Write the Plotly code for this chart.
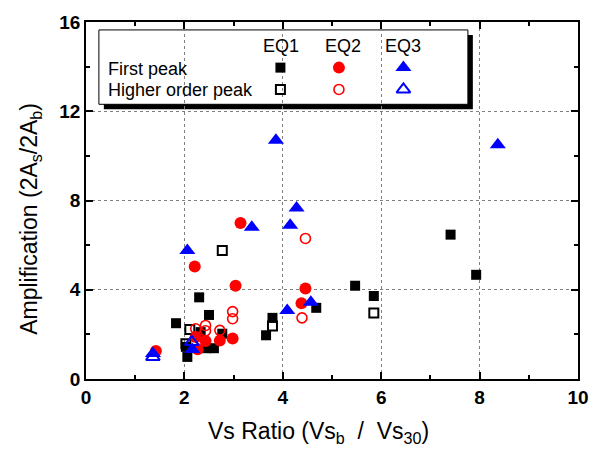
import plotly.graph_objects as go

# ---- data ----
eq1_first_x = [1.83, 2.03, 2.06, 2.30, 2.33, 2.45, 2.50, 2.60, 2.77, 3.66, 3.79, 4.68, 5.47, 5.85, 7.41, 7.93]
eq1_first_y = [2.50, 1.44, 0.99, 3.66, 2.10, 1.38, 2.87, 1.38, 2.03, 1.96, 2.74, 3.19, 4.18, 3.72, 6.47, 4.67]

eq1_higher_x = [2.03, 2.11, 2.77, 3.79, 5.85]
eq1_higher_y = [1.58, 2.22, 5.76, 2.37, 2.96]

eq2_first_x = [1.42, 2.21, 2.23, 2.27, 2.43, 2.72, 2.98, 3.04, 3.14, 4.38, 4.46]
eq2_first_y = [1.26, 5.04, 1.88, 1.33, 1.70, 1.72, 1.81, 4.18, 6.99, 3.39, 4.06]

eq2_higher_x = [2.23, 2.43, 2.43, 2.72, 2.98, 2.98, 4.39, 4.46]
eq2_higher_y = [2.25, 2.40, 2.16, 2.18, 3.02, 2.70, 2.74, 6.30]

eq3_first_x = [1.36, 2.06, 2.16, 3.37, 3.86, 4.09, 4.15, 4.28, 4.57, 8.37]
eq3_first_y = [1.14, 5.76, 1.32, 6.80, 10.70, 3.07, 6.89, 7.66, 3.44, 10.50]

eq3_higher_x = [1.36, 2.15]
eq3_higher_y = [0.99, 1.66]

x_ticks = [0, 2, 4, 6, 8, 10]
y_ticks = [0, 4, 8, 12, 16]

series_names = ["EQ1", "EQ2", "EQ3"]
row_names = ["First peak", "Higher order peak"]
x_title = "Vs Ratio (Vs<sub>b</sub>  /  Vs<sub>30</sub>)"
y_title = "Amplification (2A<sub>s</sub>/2A<sub>b</sub>)"

FONT = "Liberation Sans, Arial, sans-serif"
BLACK, RED, BLUE = "#000000", "#ff0000", "#0000ff"

styles = {
    "eq1_first": dict(symbol="square", size=10, color=BLACK, line=dict(width=0)),
    "eq1_higher": dict(symbol="square-open", size=9, color=BLACK, line=dict(width=2, color=BLACK)),
    "eq2_first": dict(symbol="circle", size=12, color=RED, line=dict(width=0)),
    "eq2_higher": dict(symbol="circle-open", size=10, color=RED, line=dict(width=1.6, color=RED)),
    "eq3_first": dict(symbol="triangle-up", size=14, color=BLUE, line=dict(width=0)),
    "eq3_higher": dict(symbol="triangle-up-open", size=12, color=BLUE, line=dict(width=2, color=BLUE)),
}

fig = go.Figure()
for key, xs, ys in [
    ("eq1_first", eq1_first_x, eq1_first_y),
    ("eq1_higher", eq1_higher_x, eq1_higher_y),
    ("eq2_first", eq2_first_x, eq2_first_y),
    ("eq2_higher", eq2_higher_x, eq2_higher_y),
    ("eq3_first", eq3_first_x, eq3_first_y),
    ("eq3_higher", eq3_higher_x, eq3_higher_y),
]:
    fig.add_trace(go.Scatter(x=xs, y=ys, mode="markers", marker=styles[key],
                             showlegend=False, hoverinfo="skip"))

# ---- custom legend (overlay axes measured in pixels of the plot area) ----
L, R, T, B = 86, 582, 19, 379
col_x = [282, 341, 406]
row_y = [65, 87]
keys = [["eq1_first", "eq2_first", "eq3_first"], ["eq1_higher", "eq2_higher", "eq3_higher"]]
for r in range(2):
    for c in range(3):
        fig.add_trace(go.Scatter(x=[col_x[c]], y=[row_y[r]], xaxis="x2", yaxis="y2",
                                 mode="markers", marker=styles[keys[r][c]],
                                 showlegend=False, hoverinfo="skip"))

def px(x):
    return (x - L) / (R - L)

def py(y):
    return (B - y) / (B - T)

# shadow + box
fig.add_shape(type="rect", xref="paper", yref="paper", layer="between",
              x0=px(104), x1=px(476), y0=py(107), y1=py(32),
              fillcolor="black", line=dict(width=0))
fig.add_shape(type="rect", xref="paper", yref="paper", layer="between",
              x0=px(99), x1=px(471), y0=py(102), y1=py(27),
              fillcolor="white", line=dict(width=1, color="black"))

for c, name in enumerate(series_names):
    fig.add_annotation(xref="paper", yref="paper", x=px([283, 345, 406][c]), y=py(43),
                       text=name, showarrow=False, font=dict(family=FONT, size=18, color="black"),
                       xanchor="center", yanchor="middle")
for r, name in enumerate(row_names):
    fig.add_annotation(xref="paper", yref="paper", x=px(106), y=py([66, 88][r]),
                       text=name, showarrow=False, font=dict(family=FONT, size=18, color="black"),
                       xanchor="left", yanchor="middle")

# axis titles
fig.add_annotation(xref="paper", yref="paper", x=px(320), y=py(433), text=x_title,
                   showarrow=False, font=dict(family=FONT, size=23, color="black"),
                   xanchor="center", yanchor="middle")
fig.add_annotation(xref="paper", yref="paper", x=px(30), y=py(217), text=y_title,
                   showarrow=False, textangle=-90, font=dict(family=FONT, size=23, color="black"),
                   xanchor="center", yanchor="middle")

axis_common = dict(
    showline=True, linecolor="black", linewidth=1.5, mirror="allticks",
    ticks="inside", ticklen=7, tickwidth=1.5, tickcolor="black",
    showgrid=True, gridcolor="#7f7f7f", griddash="dot", gridwidth=1,
    zeroline=False,
    tickfont=dict(family=FONT, size=19, color="black", weight="bold"),
)

fig.update_layout(
    width=601, height=450,
    margin=dict(l=L, r=601 - R, t=T, b=450 - B),
    paper_bgcolor="white", plot_bgcolor="white",
    font=dict(family=FONT, color="black"),
    xaxis=dict(range=[0, 10], tickvals=x_ticks, ticktext=[str(v) for v in x_ticks],
               minor=dict(dtick=1, ticks="inside", ticklen=4, tickcolor="black", showgrid=False),
               **axis_common),
    yaxis=dict(range=[0, 16], tickvals=y_ticks, ticktext=[str(v) for v in y_ticks],
               minor=dict(dtick=2, ticks="inside", ticklen=4, tickcolor="black", showgrid=False),
               **axis_common),
    xaxis2=dict(range=[L, R], overlaying="x", visible=False, fixedrange=True),
    yaxis2=dict(range=[B, T], overlaying="y", visible=False, fixedrange=True),
)

fig.write_html("out.html")
